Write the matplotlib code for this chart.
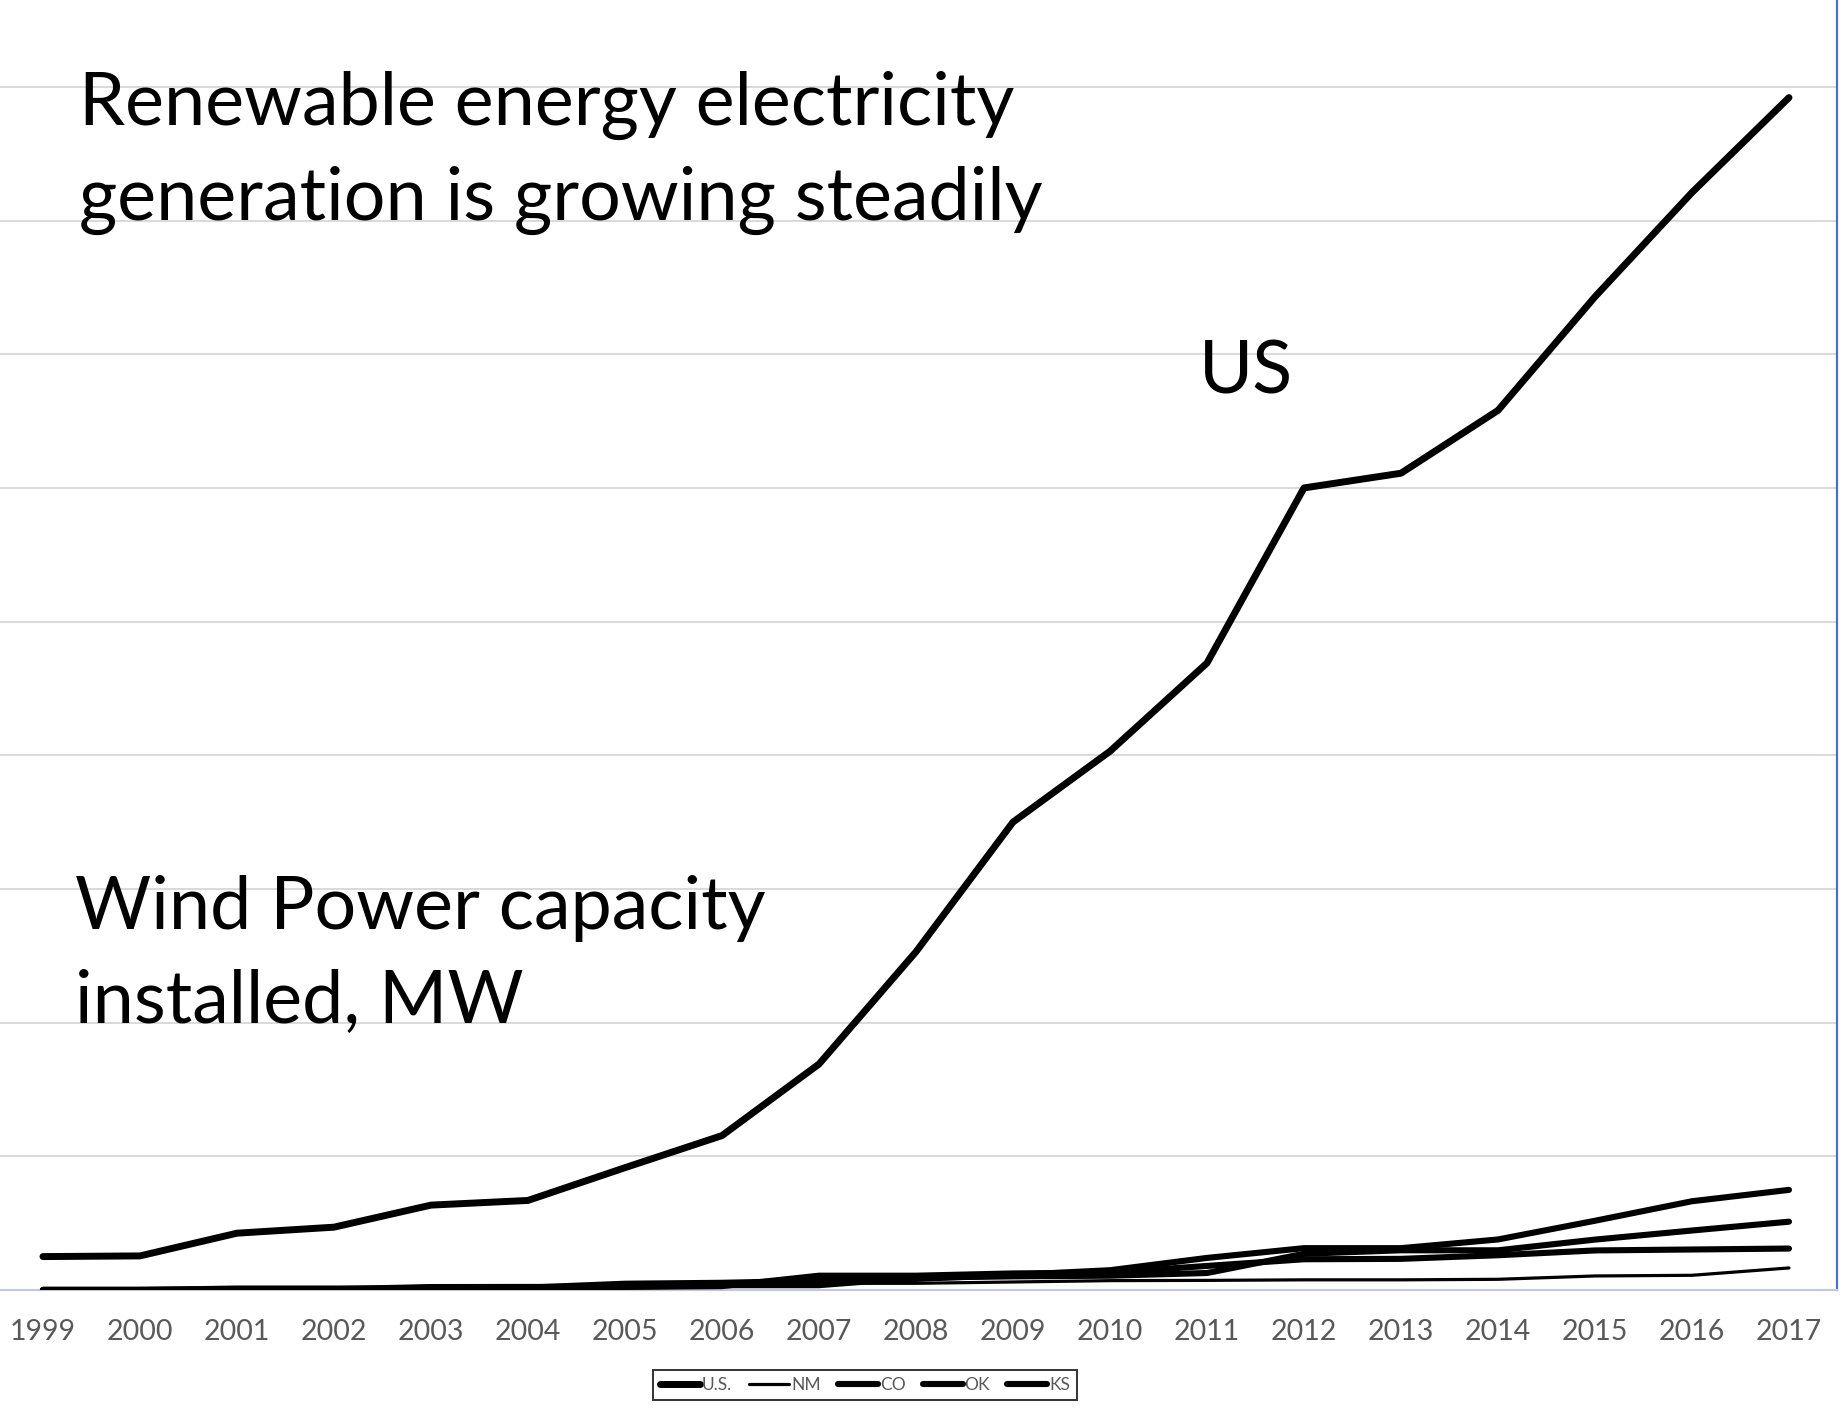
import matplotlib
matplotlib.use('Agg')
import matplotlib.pyplot as plt

plt.rcParams['font.family'] = ['Lato', 'DejaVu Sans']

# wind power capacity installed, MW
years = list(range(1999, 2018))
us = [2500, 2550, 4250, 4700, 6350, 6700, 9150, 11550, 16900, 25300,
      35000, 40300, 46900, 60000, 61100, 65800, 74300, 82100, 89200]
nm = [0, 0, 0, 0, 0, 0, 260, 400, 500, 500,
      600, 700, 720, 760, 760, 800, 1050, 1100, 1650]
co = [20, 20, 60, 60, 220, 230, 230, 290, 1070, 1070,
      1240, 1300, 1800, 2300, 2330, 2600, 2960, 3030, 3100]
ok = [0, 0, 0, 0, 180, 180, 470, 540, 690, 830,
      1130, 1480, 2400, 3130, 3130, 3780, 5180, 6640, 7490]
ks = [0, 0, 110, 110, 110, 110, 260, 360, 360, 920,
      1020, 1070, 1270, 2710, 2970, 2970, 3770, 4450, 5110]

W, H = 1844, 1411
fig = plt.figure(figsize=(W / 100, H / 100), dpi=100)
ax = fig.add_axes([0, 121 / H, 1837 / W, 1290 / H])

lw = 4.4
ax.plot(years, us, color='black', lw=5.0, solid_capstyle='round', label='U.S.', zorder=5)
ax.plot(years, nm, color='black', lw=2.3, solid_capstyle='round', label='NM', zorder=4)
ax.plot(years, co, color='black', lw=lw, solid_capstyle='round', label='CO', zorder=4)
ax.plot(years, ok, color='black', lw=lw, solid_capstyle='round', label='OK', zorder=4)
ax.plot(years, ks, color='black', lw=lw, solid_capstyle='round', label='KS', zorder=4)

ax.set_xlim(1998.557, 2017.495)
ax.set_ylim(0, 96500)
ax.set_xticks(years)
ax.set_xticklabels([str(y) for y in years])
ax.set_yticks(range(0, 100000, 10000))
ax.set_yticklabels([])
ax.tick_params(axis='x', length=0, pad=21, labelsize=20.5, labelcolor='#595959')
ax.tick_params(axis='y', length=0)
ax.grid(axis='y', color='#d9d9d9', lw=1.4)
ax.set_axisbelow(True)

for s in ['top', 'left']:
    ax.spines[s].set_visible(False)
ax.spines['bottom'].set_color('#c3c9d5')
ax.spines['bottom'].set_linewidth(1.6)
ax.spines['right'].set_color('#4472c4')
ax.spines['right'].set_linewidth(1.6)

# annotations
big = 53
fig.text(79 / W, 1 - 125 / H, 'Renewable energy electricity', fontsize=big, va='baseline')
fig.text(79 / W, 1 - 220 / H, 'generation is growing steadily', fontsize=big, va='baseline')
fig.text(1199 / W, 1 - 394 / H, 'US', fontsize=big, va='baseline')
fig.text(75 / W, 1 - 929 / H, 'Wind Power capacity', fontsize=big, va='baseline')
fig.text(75 / W, 1 - 1023 / H, 'installed, MW', fontsize=big, va='baseline')

leg = fig.legend(loc='center', bbox_to_anchor=(865 / W, 1 - 1385 / H), ncol=5,
                 fontsize=12.5, handlelength=2.3, handletextpad=0.1, columnspacing=1.0,
                 frameon=True, fancybox=False, borderpad=0.4)
leg.get_frame().set_edgecolor('black')
leg.get_frame().set_linewidth(1.4)
for t in leg.get_texts():
    t.set_color('#595959')

fig.savefig('out.png', dpi=100)
